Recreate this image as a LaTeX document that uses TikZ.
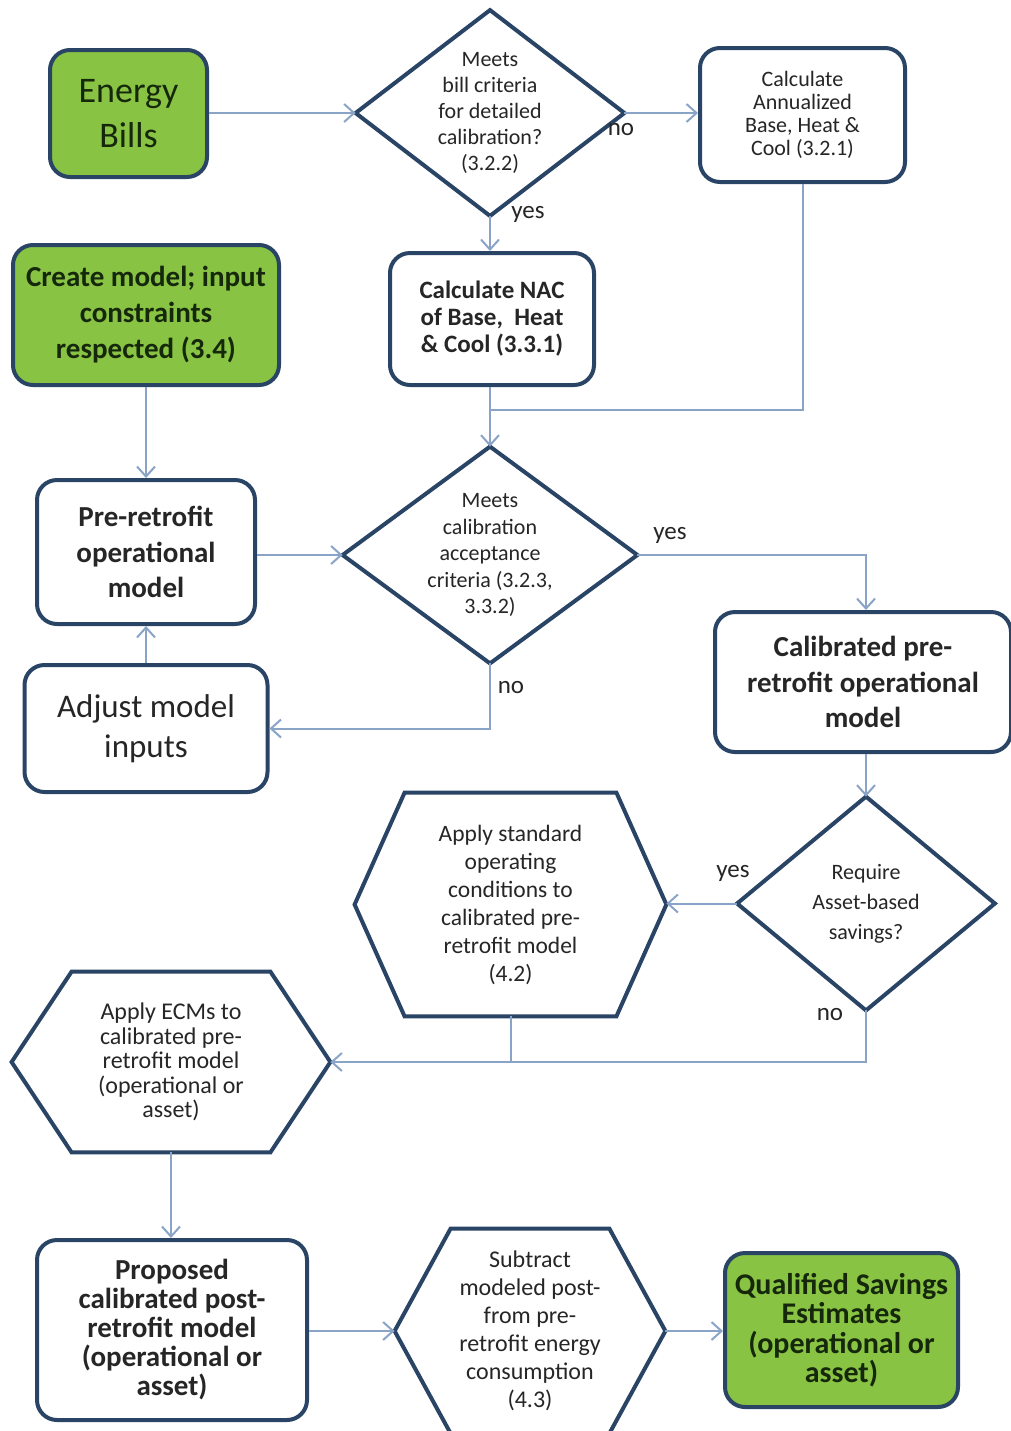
\documentclass[tikz,border=0pt]{standalone}
\usepackage{fontspec}
\setmainfont{Carlito}
\usetikzlibrary{arrows.meta}

\definecolor{navy}{HTML}{2A4466}
\definecolor{steel}{HTML}{8AA4C8}
\definecolor{leaf}{HTML}{88C343}
\definecolor{deepgreen}{HTML}{16280C}
\definecolor{ink}{HTML}{262626}

\newcommand{\fs}[2]{\fontsize{#1}{#2}\selectfont}

\tikzset{
  box/.style={draw=navy, line width=2pt, rounded corners=10pt, fill=white,
              inner sep=0pt, align=center, text=ink},
  greenbox/.style={box, fill=leaf, text=deepgreen},
  holder/.style={inner sep=0pt, align=center, text=ink},
  outline/.style={draw=navy, line width=2pt, line join=miter},
  link/.style={draw=steel, line width=1pt},
  arrow/.style={link, -{Straight Barb[length=5pt,width=9pt,line width=1pt]}},
  tag/.style={font=\fs{12.5}{14}, text=ink, inner sep=0pt}
}

\begin{document}
\begin{tikzpicture}[x=0.5pt, y=-0.5pt]
  \fill[white] (0,0) rectangle (1011,1431);
  \useasboundingbox (0,0) rectangle (1011,1431);

  % ---- rounded process boxes ----
  \node[greenbox, minimum width=78.5pt, minimum height=63.5pt, font=\fs{18}{22.5}]
    (bills) at (128.5,113.5) {Energy\\Bills};
  \node[box, minimum width=102.5pt, minimum height=67pt, font=\fs{11}{11.5}]
    (annual) at (802.5,115) {Calculate\\Annualized\\Base, Heat \&\\Cool (3.2.1)};
  \node[greenbox, minimum width=133pt, minimum height=70pt, font=\bfseries\fs{14.5}{18}]
    (create) at (146,315) {Create model; input\\constraints\\respected (3.4)};
  \node[box, minimum width=102pt, minimum height=66pt, font=\bfseries\fs{12.5}{13.5}]
    (nac) at (492,319) {Calculate NAC\\of Base,\ \ Heat\\\& Cool (3.3.1)};
  \node[box, minimum width=109pt, minimum height=72pt, font=\bfseries\fs{14.5}{17.75}]
    (pre) at (146,552) {Pre-retrofit\\operational\\model};
  \node[box, minimum width=121.5pt, minimum height=63.5pt, font=\fs{16.5}{20}]
    (adjust) at (146,728.5) {Adjust model\\inputs};
  \node[box, minimum width=148pt, minimum height=70pt, font=\bfseries\fs{14.5}{17.75}]
    (calib) at (863,682) {Calibrated pre-\\retrofit operational\\model};
  \node[box, minimum width=135pt, minimum height=90pt, font=\bfseries\fs{14.5}{14.5}]
    (proposed) at (172,1330) {Proposed\\calibrated post-\\retrofit model\\(operational or\\asset)};
  \node[greenbox, minimum width=116.5pt, minimum height=77pt, font=\bfseries\fs{15}{14.75}]
    (qualified) at (841.5,1330) {Qualified Savings\\Estimates\\(operational or\\asset)};

  % ---- decisions ----
  \node[holder, minimum width=134pt, minimum height=102.5pt, font=\fs{11}{13}]
    (d1) at (490,113) {Meets\\bill criteria\\for detailed\\calibration?\\(3.2.2)};
  \node[holder, minimum width=147pt, minimum height=108pt, font=\fs{11}{13.25}]
    (d2) at (490,555) {Meets\\calibration\\acceptance\\criteria (3.2.3,\\3.3.2)};
  \node[holder, minimum width=128.5pt, minimum height=106.5pt, font=\fs{11}{15}]
    (d3) at (866,903.5) {Require\\Asset-based\\savings?};
  \foreach \d in {d1,d2,d3}
    \draw[outline] (\d.west) -- (\d.north) -- (\d.east) -- (\d.south) -- cycle;

  % ---- hexagonal steps ----
  \node[holder, minimum width=155.5pt, minimum height=111.5pt, font=\fs{11.75}{14}]
    (h1) at (510.5,904.5) {Apply standard\\operating\\conditions to\\calibrated pre-\\retrofit model\\(4.2)};
  \node[holder, minimum width=159pt, minimum height=90pt, font=\fs{12}{12.25}]
    (h2) at (171,1062) {Apply ECMs to\\calibrated pre-\\retrofit model\\(operational or\\asset)};
  \node[holder, minimum width=135pt, minimum height=102pt, font=\fs{12}{14}]
    (h3) at (530,1331) {Subtract\\modeled post-\\from pre-\\retrofit energy\\consumption\\(4.3)};
  \foreach \h/\o in {h1/25pt, h2/30pt, h3/28pt}
    \draw[outline] (\h.west) -- ([xshift=\o]\h.north west) -- ([xshift=-\o]\h.north east)
      -- (\h.east) -- ([xshift=-\o]\h.south east) -- ([xshift=\o]\h.south west) -- cycle;

  % ---- junction points ----
  \coordinate (join1) at (490,410);
  \coordinate (join2) at (511,1062);

  % ---- connectors ----
  \draw[arrow] (bills.east |- d1.west) -- (d1.west);
  \draw[arrow] (d1.east) -- (annual.west |- d1.east);
  \draw[arrow] (d1.south) -- (d1.south |- nac.north);
  \draw[link]  (annual.south) |- (join1);
  \draw[arrow] (d1.south |- nac.south) -- (d2.north);
  \draw[arrow] (create.south -| pre.north) -- (pre.north);
  \draw[arrow] (pre.east |- d2.west) -- (d2.west);
  \draw[arrow] (d2.east) -| (d3.north |- calib.north);
  \draw[arrow] (d2.south) |- (adjust.east);
  \draw[arrow] (adjust.north) -- (pre.south);
  \draw[arrow] (d3.north |- calib.south) -- (d3.north);
  \draw[arrow] (d3.west) -- (h1.east |- d3.west);
  \draw[arrow] (d3.south) |- (h2.east);
  \draw[link]  (h1.south -| join2) -- (join2);
  \draw[arrow] (h2.south) -- (h2.south |- proposed.north);
  \draw[arrow] (proposed.east |- h3.west) -- (h3.west);
  \draw[arrow] (h3.east) -- (qualified.west |- h3.east);

  % ---- branch labels ----
  \node[tag] (no1)  at (621,130) {no};
  \node[tag] (yes1) at (528,214) {yes};
  \node[tag] (yes2) at (670,535) {yes};
  \node[tag] (no2)  at (511,688) {no};
  \node[tag] (yes3) at (733,873) {yes};
  \node[tag] (no3)  at (830,1015) {no};
\end{tikzpicture}
\end{document}
